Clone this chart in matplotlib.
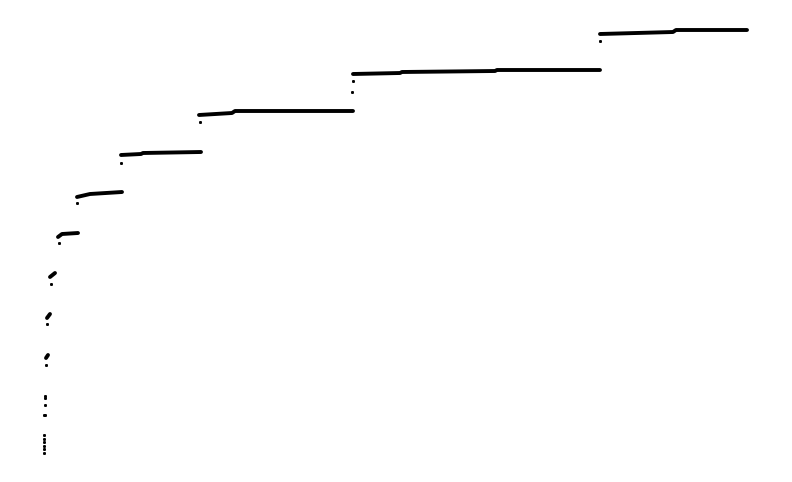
import matplotlib
matplotlib.use("Agg")
import matplotlib.pyplot as plt

plateau_x = [
    [46, 48],
    [47, 50],
    [50, 55],
    [58, 62, 78],
    [77, 90, 122],
    [121, 141, 143, 201],
    [199, 232, 235, 353],
    [353, 400, 402, 495, 497, 600],
    [600, 673, 676, 747],
]
plateau_y = [
    [124, 127],
    [164, 168],
    [205, 209],
    [245, 248, 249],
    [285, 288, 290],
    [327, 328, 329, 330],
    [367, 369, 371, 371],
    [408, 409, 410, 411, 412, 412],
    [448, 450, 452, 452],
]

# Single points below the plateaus
dot_x = [44, 44, 44, 44, 44, 44, 45, 45, 45, 45, 44, 46, 47, 51, 59, 77, 121, 200, 353, 352, 600]
dot_y = [47, 43.5, 40, 36.5, 33, 29.5, 86, 84, 77, 67, 67, 117, 158, 198, 239, 279, 319, 360, 401, 390, 441]

fig = plt.figure(figsize=(7.92, 4.82), dpi=100)
ax = fig.add_axes([0, 0, 1, 1])

for xs, ys in zip(plateau_x, plateau_y):
    ax.plot(xs, ys, color='black', linewidth=2.8, solid_capstyle='round')

ax.plot(dot_x, dot_y, linestyle='none', marker='s', markersize=1.1, color='black')

ax.set_xlim(0, 792)
ax.set_ylim(0, 482)
ax.axis('off')

fig.savefig("out.png", dpi=100, facecolor='white')
